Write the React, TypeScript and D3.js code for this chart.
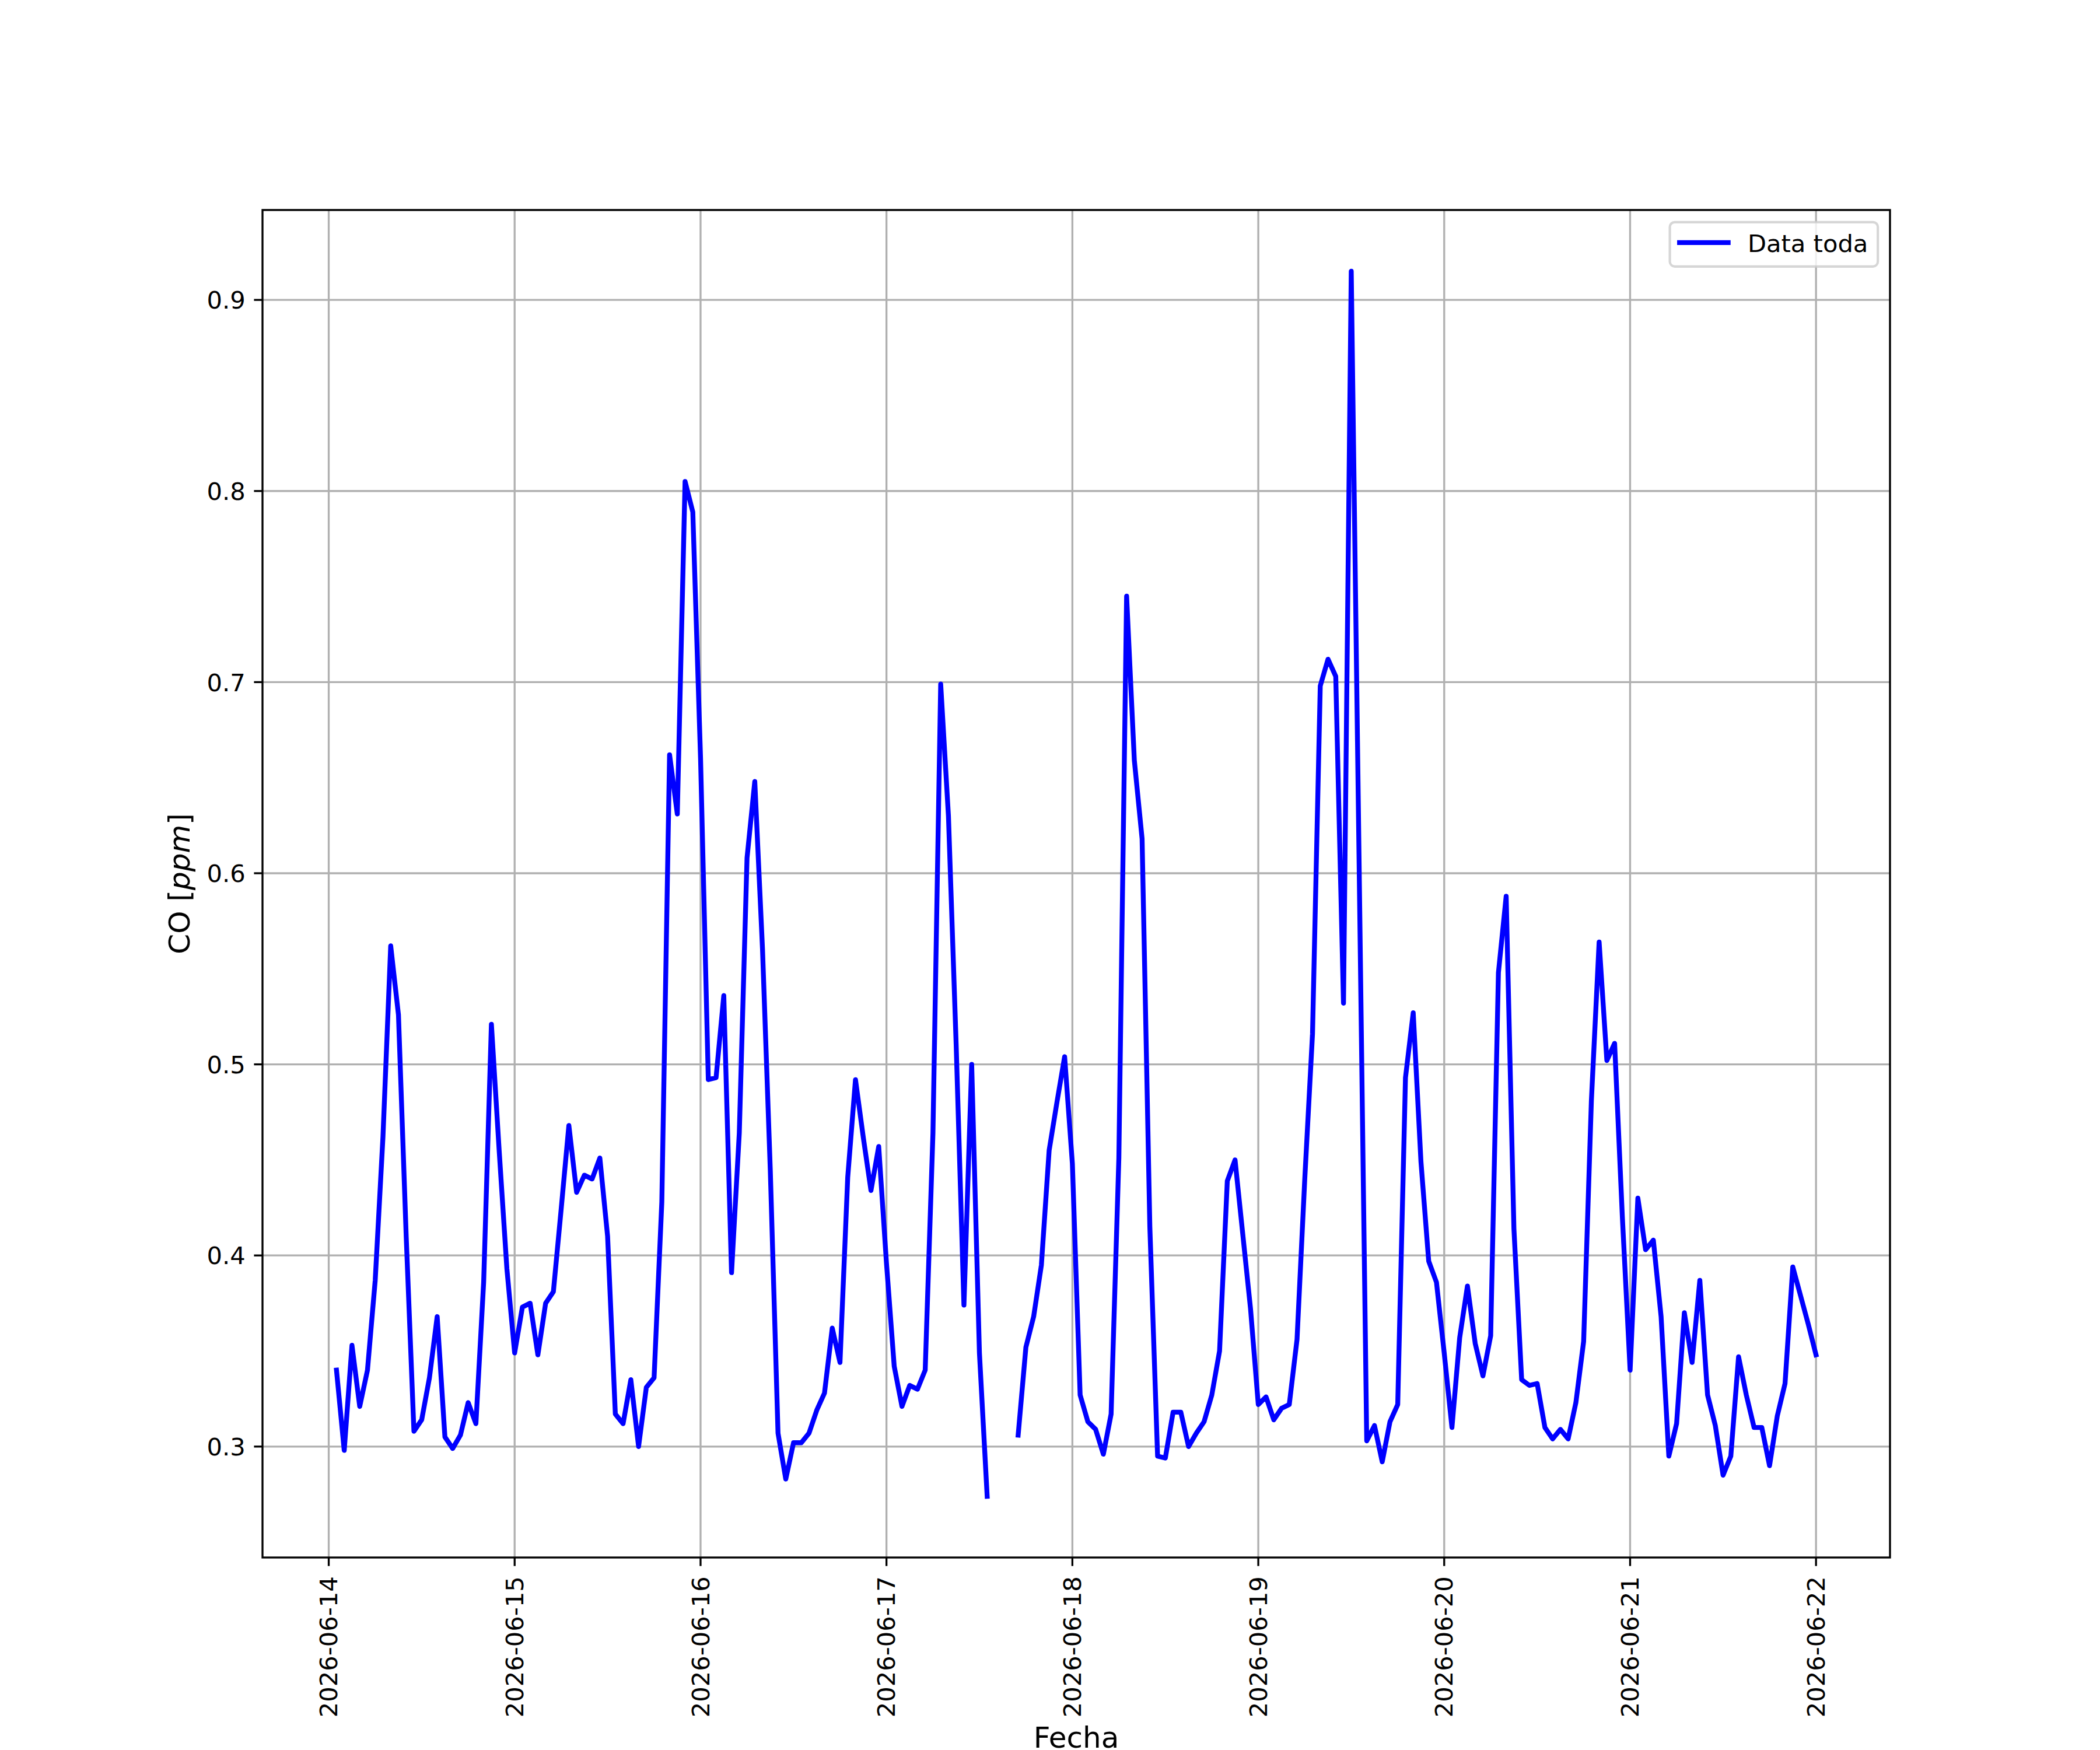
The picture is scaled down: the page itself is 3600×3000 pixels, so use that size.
import * as d3 from 'd3';

// hourly CO readings, each day runs 01:00 .. 24:00 (= 00:00 next day)
const dayLabels = ['2026-06-14', '2026-06-15', '2026-06-16', '2026-06-17', '2026-06-18', '2026-06-19', '2026-06-20', '2026-06-21'];

const co_0614 = [0.340, 0.298, 0.353, 0.321, 0.340, 0.387, 0.462, 0.562, 0.526, 0.410, 0.308, 0.314, 0.336, 0.368, 0.305, 0.299, 0.306, 0.323, 0.312, 0.386, 0.521, 0.455, 0.393, 0.349];
const co_0615 = [0.373, 0.375, 0.348, 0.375, 0.381, 0.424, 0.468, 0.433, 0.442, 0.440, 0.451, 0.410, 0.317, 0.312, 0.335, 0.300, 0.331, 0.336, 0.428, 0.662, 0.631, 0.805, 0.789, 0.660];
const co_0616 = [0.492, 0.493, 0.536, 0.391, 0.464, 0.608, 0.648, 0.560, 0.445, 0.307, 0.283, 0.302, 0.302, 0.307, 0.319, 0.328, 0.362, 0.344, 0.441, 0.492, 0.462, 0.434, 0.457, 0.396];
const co_0617 = [0.342, 0.321, 0.332, 0.330, 0.340, 0.464, 0.699, 0.630, 0.510, 0.374, 0.500, 0.349, 0.274, null, null, null, 0.306, 0.352, 0.368, 0.395, 0.455, 0.480, 0.504, 0.448];
const co_0618 = [0.327, 0.313, 0.309, 0.296, 0.317, 0.451, 0.745, 0.659, 0.618, 0.415, 0.295, 0.294, 0.318, 0.318, 0.300, 0.307, 0.313, 0.327, 0.350, 0.439, 0.450, 0.411, 0.372, 0.322];
const co_0619 = [0.326, 0.314, 0.320, 0.322, 0.356, 0.440, 0.516, 0.698, 0.712, 0.703, 0.532, 0.915, 0.610, 0.303, 0.311, 0.292, 0.313, 0.322, 0.493, 0.527, 0.449, 0.397, 0.386, 0.349];
const co_0620 = [0.310, 0.357, 0.384, 0.354, 0.337, 0.358, 0.548, 0.588, 0.414, 0.335, 0.332, 0.333, 0.310, 0.304, 0.309, 0.304, 0.323, 0.355, 0.481, 0.564, 0.502, 0.511, 0.420, 0.340];
const co_0621 = [0.430, 0.403, 0.408, 0.368, 0.295, 0.312, 0.370, 0.344, 0.387, 0.327, 0.311, 0.285, 0.295, 0.347, 0.327, 0.310, 0.310, 0.290, 0.316, 0.333, 0.394, 0.379, 0.364, 0.348];

const series = [co_0614, co_0615, co_0616, co_0617, co_0618, co_0619, co_0620, co_0621];

const yTicks = [0.3, 0.4, 0.5, 0.6, 0.7, 0.8, 0.9];
const legendLabel = 'Data toda';

// figure 12x10 in @ 300 dpi, matplotlib default subplot box
const W = 3600;
const H = 3000;
const left = 450, right = 3240, top = 360, bottom = 2670;
const pt = 300 / 72;
const fs = 10 * pt;
const labelFs = 12 * pt;
const tickLen = 3.5 * pt;
const font = '"DejaVu Sans", sans-serif';

type Pt = { t: Date; v: number | null };

export default function App() {
    const points: Pt[] = series.flatMap((vals, d) =>
        vals.map((v, i) => ({
            t: new Date(Date.parse(dayLabels[d] + 'T00:00:00Z') + (i + 1) * 3600e3),
            v,
        }))
    );

    const t0 = +points[0].t;
    const t1 = +points[points.length - 1].t;
    const span = t1 - t0;
    const x = d3.scaleUtc()
        .domain([new Date(t0 - 0.05 * span), new Date(t1 + 0.05 * span)])
        .range([left, right]);

    const vals = points.filter(p => p.v != null).map(p => p.v as number);
    const vmin = d3.min(vals)!;
    const vmax = d3.max(vals)!;
    const pad = 0.05 * (vmax - vmin);
    const y = d3.scaleLinear().domain([vmin - pad, vmax + pad]).range([bottom, top]);

    const line = d3.line<Pt>()
        .defined(p => p.v != null)
        .x(p => x(p.t))
        .y(p => y(p.v as number));

    const xTicks = x.ticks(d3.utcDay.every(1)!);
    const fmt = d3.utcFormat('%Y-%m-%d');

    const gridStroke = '#b0b0b0';
    const thin = 0.8 * pt;

    // legend box (upper right)
    const lgRight = right - 0.5 * fs;
    const lgTop = top + 0.5 * fs;
    const lgW = 356.6;
    const lgH = 76;
    const lgLeft = lgRight - lgW;
    const lgLineX0 = lgLeft + 0.4 * fs;
    const lgLineX1 = lgLineX0 + 2 * fs;

    return (
        <svg
            width={W}
            height={H}
            viewBox={`0 0 ${W} ${H}`}
            style={{ position: 'absolute', left: 0, top: 0, background: '#fff' }}
            fontFamily={font}
        >
            <rect x={0} y={0} width={W} height={H} fill="#fff" />

            {/* grid */}
            <g stroke={gridStroke} strokeWidth={thin}>
                {xTicks.map(t => (
                    <line key={+t} x1={x(t)} x2={x(t)} y1={top} y2={bottom} />
                ))}
                {yTicks.map(v => (
                    <line key={v} x1={left} x2={right} y1={y(v)} y2={y(v)} />
                ))}
            </g>

            {/* data */}
            <path
                d={line(points) ?? ''}
                fill="none"
                stroke="#0000ff"
                strokeWidth={2 * pt}
                strokeLinejoin="round"
                strokeLinecap="square"
            />

            {/* spines */}
            <rect x={left} y={top} width={right - left} height={bottom - top} fill="none" stroke="#000" strokeWidth={thin} />

            {/* x ticks */}
            <g>
                {xTicks.map(t => (
                    <g key={+t}>
                        <line x1={x(t)} x2={x(t)} y1={bottom} y2={bottom + tickLen} stroke="#000" strokeWidth={thin} />
                        <text
                            transform={`translate(${x(t)},${bottom + 2 * tickLen + 3}) rotate(-90)`}
                            textAnchor="end"
                            dy="0.35em"
                            fontSize={fs}
                            fill="#000"
                        >
                            {fmt(t)}
                        </text>
                    </g>
                ))}
            </g>

            {/* y ticks */}
            <g>
                {yTicks.map(v => (
                    <g key={v}>
                        <line x1={left - tickLen} x2={left} y1={y(v)} y2={y(v)} stroke="#000" strokeWidth={thin} />
                        <text x={left - 2 * tickLen} y={y(v)} dy="0.364em" textAnchor="end" fontSize={fs} fill="#000">
                            {v.toFixed(1)}
                        </text>
                    </g>
                ))}
            </g>

            {/* axis labels */}
            <text x={(left + right) / 2} y={2996} textAnchor="middle" fontSize={labelFs} fill="#000">
                Fecha
            </text>
            <text transform={`translate(325,${(top + bottom) / 2}) rotate(-90)`} textAnchor="middle" fontSize={labelFs} fill="#000">
                CO [<tspan fontStyle="italic">ppm</tspan>]
            </text>

            {/* legend */}
            <g>
                <rect
                    x={lgLeft}
                    y={lgTop}
                    width={lgW}
                    height={lgH}
                    rx={0.2 * fs}
                    fill="#fff"
                    fillOpacity={0.8}
                    stroke="#cccccc"
                    strokeOpacity={0.8}
                    strokeWidth={1 * pt}
                />
                <line
                    x1={lgLineX0}
                    x2={lgLineX1}
                    y1={lgTop + 35}
                    y2={lgTop + 35}
                    stroke="#0000ff"
                    strokeWidth={2 * pt}
                    strokeLinecap="square"
                />
                <text x={lgLineX1 + 0.8 * fs} y={lgTop + 51} fontSize={fs} fill="#000">
                    {legendLabel}
                </text>
            </g>
        </svg>
    );
}
